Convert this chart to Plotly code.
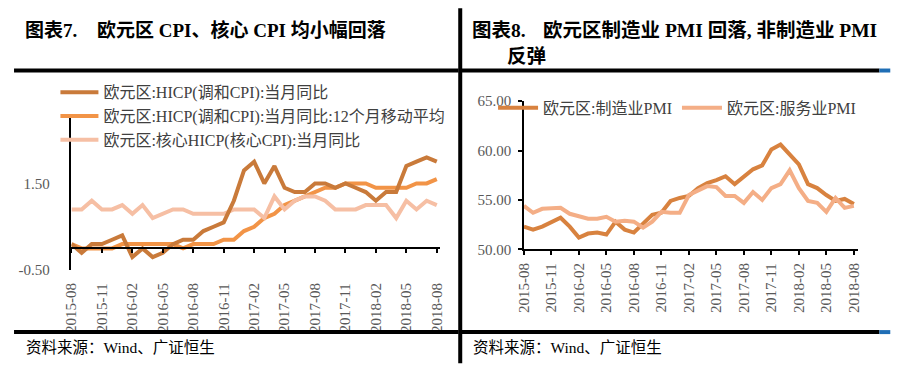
import plotly.graph_objects as go

# ---------------- data ----------------
months = ["2015-08", "2015-09", "2015-10", "2015-11", "2015-12",
          "2016-01", "2016-02", "2016-03", "2016-04", "2016-05", "2016-06",
          "2016-07", "2016-08", "2016-09", "2016-10", "2016-11", "2016-12",
          "2017-01", "2017-02", "2017-03", "2017-04", "2017-05", "2017-06",
          "2017-07", "2017-08", "2017-09", "2017-10", "2017-11", "2017-12",
          "2018-01", "2018-02", "2018-03", "2018-04", "2018-05", "2018-06",
          "2018-07", "2018-08"]
tick_labels = ["2015-08", "2015-11", "2016-02", "2016-05", "2016-08", "2016-11",
               "2017-02", "2017-05", "2017-08", "2017-11", "2018-02", "2018-05",
               "2018-08"]

hicp_yoy = [0.1, -0.1, 0.1, 0.1, 0.2,
            0.3, -0.2, 0.0, -0.2, -0.1, 0.1, 0.2, 0.2, 0.4, 0.5, 0.6, 1.1,
            1.8, 2.0, 1.5, 1.9, 1.4, 1.3, 1.3, 1.5, 1.5, 1.4, 1.5, 1.4,
            1.3, 1.1, 1.3, 1.3, 1.9, 2.0, 2.1, 2.0]
hicp_ma12 = [0.1, 0.0, 0.0, 0.0, 0.0,
             0.1, 0.1, 0.1, 0.1, 0.1, 0.1, 0.0, 0.1, 0.1, 0.1, 0.2, 0.2,
             0.4, 0.5, 0.7, 0.8, 1.0, 1.1, 1.2, 1.3, 1.4, 1.4, 1.5, 1.5,
             1.5, 1.4, 1.4, 1.4, 1.4, 1.5, 1.5, 1.6]
core_hicp_yoy = [0.9, 0.9, 1.1, 0.9, 0.9,
                 1.0, 0.8, 1.0, 0.7, 0.8, 0.9, 0.9, 0.8, 0.8, 0.8, 0.8, 0.9,
                 0.9, 0.9, 0.7, 1.2, 0.9, 1.1, 1.2, 1.2, 1.1, 0.9, 0.9, 0.9,
                 1.0, 1.0, 1.0, 0.7, 1.1, 0.9, 1.1, 1.0]

pmi_manu = [52.3, 52.0, 52.3, 52.8, 53.2,
            52.3, 51.2, 51.6, 51.7, 51.5, 52.8, 52.0, 51.7, 52.6, 53.5, 53.7, 54.9,
            55.2, 55.4, 56.2, 56.7, 57.0, 57.4, 56.6, 57.4, 58.1, 58.5, 60.1, 60.6,
            59.6, 58.6, 56.6, 56.2, 55.5, 54.9, 55.1, 54.6]
pmi_serv = [54.4, 53.7, 54.1, 54.2, 54.2,
            53.6, 53.3, 53.1, 53.1, 53.3, 52.8, 52.9, 52.8, 52.2, 52.8, 53.8, 53.7,
            53.7, 55.5, 56.0, 56.4, 56.3, 55.4, 55.4, 54.7, 55.8, 55.0, 56.2, 56.6,
            58.0, 56.2, 54.9, 54.7, 53.8, 55.2, 54.2, 54.4]

left_names = ["欧元区:HICP(调和CPI):当月同比",
              "欧元区:HICP(调和CPI):当月同比:12个月移动平均",
              "欧元区:核心HICP(核心CPI):当月同比"]
right_names = ["欧元区:制造业PMI", "欧元区:服务业PMI"]

# ---------------- styling ----------------
PAGE_W, PAGE_H = 914, 375
OFF = 8                      # default page margin of the html body
W, H = PAGE_W - OFF, PAGE_H - OFF
FONT = "Liberation Serif, Noto Sans CJK SC, serif"
C_HICP = "#C97A3A"
C_MA = "#F29447"
C_CORE = "#F6BFA4"
C_MANU = "#D8823F"
C_SERV = "#F4AE86"
TICK_COL = "#595959"


def px_x(p):
    return (p - OFF) / W


def px_y(p):
    return 1 - (p - OFF) / H


xi = list(range(len(months)))
tickvals = [months.index(t) for t in tick_labels]

fig = go.Figure()

# left chart
fig.add_trace(go.Scatter(x=xi, y=hicp_yoy, name=left_names[0], mode="lines",
                         line=dict(color=C_HICP, width=4), xaxis="x2", yaxis="y",
                         legend="legend", legendrank=1))
fig.add_trace(go.Scatter(x=xi, y=hicp_ma12, name=left_names[1], mode="lines",
                         line=dict(color=C_MA, width=4), xaxis="x", yaxis="y",
                         legend="legend", legendrank=2))
fig.add_trace(go.Scatter(x=xi, y=core_hicp_yoy, name=left_names[2], mode="lines",
                         line=dict(color=C_CORE, width=4), xaxis="x", yaxis="y",
                         legend="legend", legendrank=3))

# right chart
fig.add_trace(go.Scatter(x=xi, y=pmi_manu, name=right_names[0], mode="lines",
                         line=dict(color=C_MANU, width=4), xaxis="x3", yaxis="y3",
                         legend="legend2"))
fig.add_trace(go.Scatter(x=xi, y=pmi_serv, name=right_names[1], mode="lines",
                         line=dict(color=C_SERV, width=4), xaxis="x3", yaxis="y3",
                         legend="legend2"))

left_dom_x = [px_x(64.3), px_x(438)]
right_dom_x = [px_x(523.3), px_x(862.7)]
tickfont = dict(family=FONT, size=15, color=TICK_COL)

fig.update_layout(
    width=W, height=H, autosize=False,
    margin=dict(l=0, r=0, t=0, b=0),
    paper_bgcolor="white", plot_bgcolor="white",
    font=dict(family=FONT, color="#404040"),
    xaxis=dict(domain=left_dom_x, range=[0, 36.3], anchor="y",
               showline=False, ticks="", showgrid=False, zeroline=False,
               tickmode="array", tickvals=tickvals, ticktext=tick_labels,
               tickangle=-90, tickfont=tickfont, ticklabelstandoff=9),
    xaxis2=dict(overlaying="x", matches="x", anchor="free",
                position=px_y(251), showline=True, linecolor="black", linewidth=1.5,
                ticks="outside", ticklen=4, tickcolor="black", tickwidth=1.5,
                tickmode="array", tickvals=tickvals, showticklabels=False,
                showgrid=False, zeroline=False),
    yaxis=dict(domain=[px_y(273.7), px_y(115)], range=[-0.5, 3.0], anchor="x",
               showline=True, linecolor="black", linewidth=1.5, ticks="",
               tickmode="array", tickvals=[-0.5, 1.5], ticktext=["-0.50", "1.50"],
               showgrid=False, zeroline=False, tickfont=tickfont, ticklabelstandoff=17),
    xaxis3=dict(domain=right_dom_x, range=[0, 36.5], anchor="y3",
                showline=True, linecolor="black", linewidth=1.5,
                ticks="outside", ticklen=4, tickcolor="black", tickwidth=1.5,
                tickmode="array", tickvals=tickvals, ticktext=tick_labels,
                tickangle=-90, tickfont=tickfont, showgrid=False, zeroline=False,
                ticklabelstandoff=2),
    yaxis3=dict(domain=[px_y(252), px_y(97)], range=[50, 65], anchor="x3",
                showline=True, linecolor="black", linewidth=1.5,
                ticks="outside", ticklen=4, tickcolor="black", tickwidth=1.5,
                dtick=5, tick0=50, tickformat=".2f", tickfont=tickfont,
                showgrid=False, zeroline=False, ticklabelstandoff=4),
    legend=dict(x=px_x(48), y=px_y(70), xanchor="left", yanchor="top",
                orientation="v", bgcolor="rgba(0,0,0,0)", borderwidth=0,
                font=dict(family=FONT, size=16, color="#404040"),
                itemwidth=38, tracegroupgap=0, traceorder="normal"),
    legend2=dict(x=px_x(492), y=px_y(104), xanchor="left", yanchor="middle",
                 orientation="h", bgcolor="rgba(0,0,0,0)", borderwidth=0,
                 font=dict(family=FONT, size=16, color="#404040"),
                 itemwidth=40),
    showlegend=True,
)

# panel frames
shapes = [
    dict(type="line", xref="paper", yref="paper", x0=px_x(458.7), x1=px_x(458.7),
         y0=px_y(0), y1=px_y(371), line=dict(color="black", width=4)),
    dict(type="line", xref="paper", yref="paper", x0=px_x(6), x1=px_x(457),
         y0=px_y(65), y1=px_y(65), line=dict(color="black", width=4)),
    dict(type="line", xref="paper", yref="paper", x0=px_x(460), x1=px_x(884),
         y0=px_y(65), y1=px_y(65), line=dict(color="black", width=4)),
    dict(type="line", xref="paper", yref="paper", x0=px_x(884), x1=px_x(895),
         y0=px_y(65), y1=px_y(65), line=dict(color="#1F6EB5", width=4)),
    dict(type="line", xref="paper", yref="paper", x0=px_x(6), x1=px_x(457),
         y0=px_y(338.5), y1=px_y(338.5), line=dict(color="black", width=4)),
    dict(type="line", xref="paper", yref="paper", x0=px_x(460), x1=px_x(884),
         y0=px_y(338.5), y1=px_y(338.5), line=dict(color="black", width=4)),
    dict(type="line", xref="paper", yref="paper", x0=px_x(884), x1=px_x(895),
         y0=px_y(338.5), y1=px_y(338.5), line=dict(color="#1F6EB5", width=4)),
]
fig.update_layout(shapes=shapes)

title_font_l = dict(family=FONT, size=19, color="black")
title_font_r = dict(family=FONT, size=19.5, color="black")
src_font = dict(family=FONT, size=15.5, color="black")


def ann(text, x, y, font):
    return dict(text=text, xref="paper", yref="paper", x=px_x(x), y=px_y(y),
                xanchor="left", yanchor="middle", showarrow=False, font=font)


fig.update_layout(annotations=[
    ann("<b>图表7.</b>", 15, 23, title_font_l),
    ann("<b>欧元区 CPI、核心 CPI 均小幅回落</b>", 88, 23, title_font_l),
    ann("<b>图表8.</b>", 469, 23, title_font_r),
    ann("<b>欧元区制造业 PMI 回落, 非制造业 PMI</b>", 541, 23, title_font_r),
    ann("<b>反弹</b>", 504, 50, title_font_r),
    ann("资料来源：Wind、广证恒生", 16, 355, src_font),
    ann("资料来源：Wind、广证恒生", 470, 355, src_font),
])

fig.write_html("out.html")
